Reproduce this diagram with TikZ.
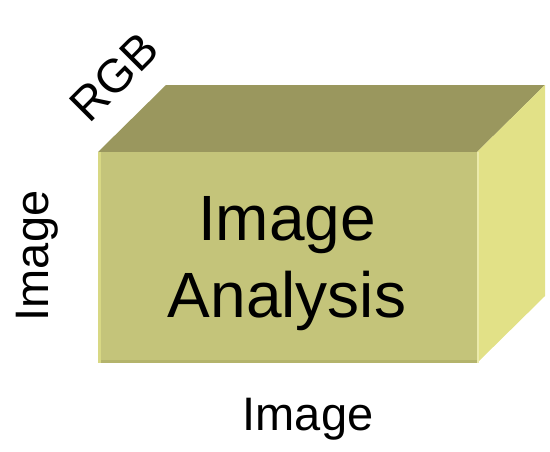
\documentclass[tikz,border=0pt]{standalone}
\usepackage{fontspec}
\setmainfont{Liberation Sans}
\usetikzlibrary{calc}
\definecolor{frontface}{HTML}{C4C47A}
\definecolor{topface}{HTML}{9A975E}
\definecolor{sideface}{HTML}{E2E187}
\definecolor{lightedge}{HTML}{D8D884}
\definecolor{darkedge}{HTML}{B4B46C}
\tikzset{axis label/.style={font=\fontsize{47}{56}\selectfont},box label/.style={font=\fontsize{64}{77}\selectfont,align=center}}

\begin{document}
\begin{tikzpicture}[x=1pt,y=-1pt]
				\useasboundingbox (0,0) rectangle (550,451);
				\coordinate (A) at (98,152);
				\coordinate (B) at (477,152);
				\coordinate (C) at (477,363);
				\coordinate (D) at (98,363);
				\coordinate (A') at ($(A)+(68,-67)$);
				\coordinate (B') at ($(B)+(68,-67)$);
				\coordinate (C') at ($(C)+(68,-67)$);
				% faces
				\fill[topface] (A) -- (B) -- (B') -- (A') -- cycle;
				\fill[sideface] (B) -- (B') -- (C') -- (C) -- cycle;
				\fill[frontface] (A) -- (B) -- (C) -- (D) -- cycle;
				% edges
				\draw[darkedge,line width=3pt] ($(D)+(2,-1.5)$) -- ($(C)+(0,-1.5)$);
				\draw[lightedge,line width=3pt] ($(A)+(1.5,0)$) -- ($(D)+(1.5,0)$);
				\draw[sideface!70!white,line width=2pt] ($(B)+(1,0)$) -- ($(C)+(1,0)$);
				% labels
				\node[box label] (title) at (287,264) {Image\\Analysis};
				\node[axis label] (width) at (308,419) {Image};
				\node[axis label,rotate=90] (height) at (37,256) {Image};
				\node[axis label,rotate=45] (depth) at (114,77) {RGB};
			\end{tikzpicture}
\end{document}
